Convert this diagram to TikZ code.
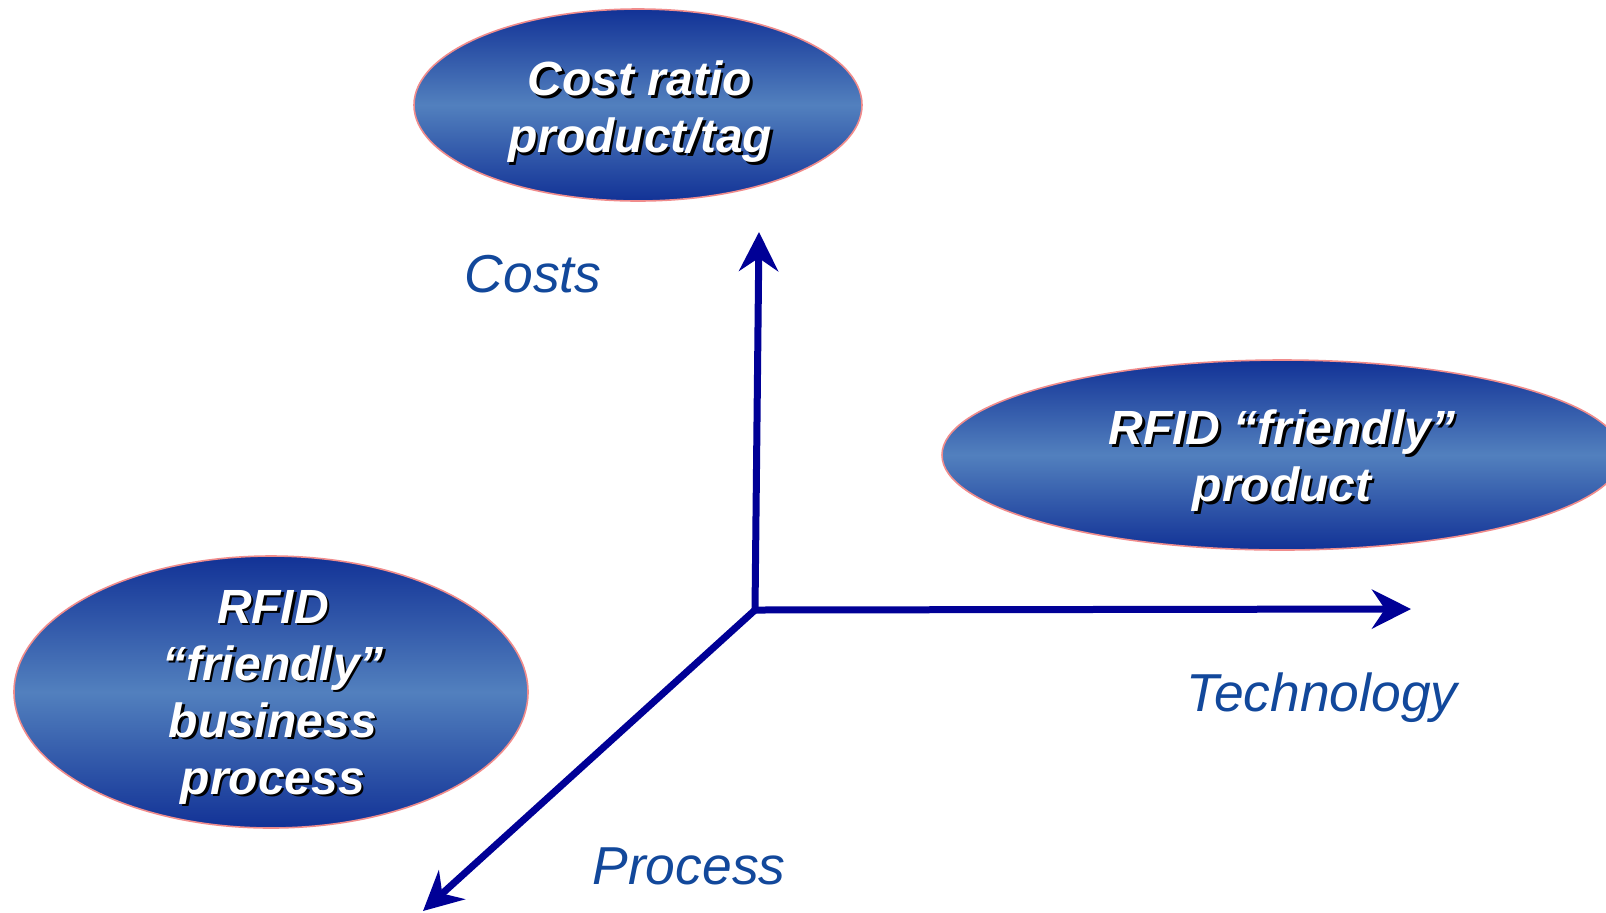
\documentclass[tikz,border=0pt]{standalone}
\usepackage{fontspec}
\setmainfont{Liberation Sans}
\usetikzlibrary{arrows.meta,shapes.geometric}
\definecolor{ellDark}{RGB}{18,50,150}
\definecolor{ellLight}{RGB}{82,128,190}
\definecolor{ellEdge}{RGB}{240,140,140}
\definecolor{axisBlue}{RGB}{0,0,150}
\definecolor{labelBlue}{RGB}{18,72,155}
\begin{document}
\begin{tikzpicture}[x=0.5pt,y=-0.5pt,
  bubble/.style={ellipse, draw=ellEdge, line width=0.8pt, top color=ellDark,
    bottom color=ellDark, middle color=ellLight, inner sep=0pt},
  bubbletext/.style={align=center, text=white, inner sep=0pt,
    font=\fontsize{24}{28.5}\selectfont\bfseries\itshape},
  bubbleshadow/.style={bubbletext, text=black, xshift=1.2pt, yshift=-1.2pt},
  axis/.style={draw=axisBlue, line width=3.5pt,
    -{Stealth[length=19.5pt,width=19.5pt,inset=6.5pt]}},
  axislabel/.style={text=labelBlue, font=\fontsize{26.7}{32}\selectfont\itshape,
    anchor=base, inner sep=0pt}]
\useasboundingbox (0,0) rectangle (1606,912);

% the three bubbles
\node[bubble, minimum width=224pt, minimum height=96pt] (costBubble) at (638,105) {};
\node[bubbleshadow] (costShadow) at (640,112) {Cost ratio\\product/tag};
\node[bubbletext] (costText) at (640,112) {Cost ratio\\product/tag};

\node[bubble, minimum width=340pt, minimum height=95pt] (productBubble) at (1282,455) {};
\node[bubbleshadow] (productShadow) at (1282,461) {RFID “friendly”\\product};
\node[bubbletext] (productText) at (1282,461) {RFID “friendly”\\product};

\node[bubble, minimum width=257pt, minimum height=136pt] (processBubble) at (271,692) {};
\node[bubbleshadow] (processShadow) at (273,697) {RFID\\“friendly”\\business\\process};
\node[bubbletext] (processText) at (273,697) {RFID\\“friendly”\\business\\process};

% axes
\coordinate (O) at (755,610);
\coordinate (costAxisEnd) at (759,232);
\coordinate (techAxisEnd) at (1411,609);
\coordinate (procAxisEnd) at (423,911);
\draw[axis] (O) -- (costAxisEnd);
\draw[axis] (O) -- (techAxisEnd);
\draw[axis] (O) -- (procAxisEnd);

% axis labels
\node[axislabel] (costsLabel) at (533,292) {Costs};
\node[axislabel] (techLabel) at (1322,711) {Technology};
\node[axislabel] (procLabel) at (689,884) {Process};
\end{tikzpicture}
\end{document}
